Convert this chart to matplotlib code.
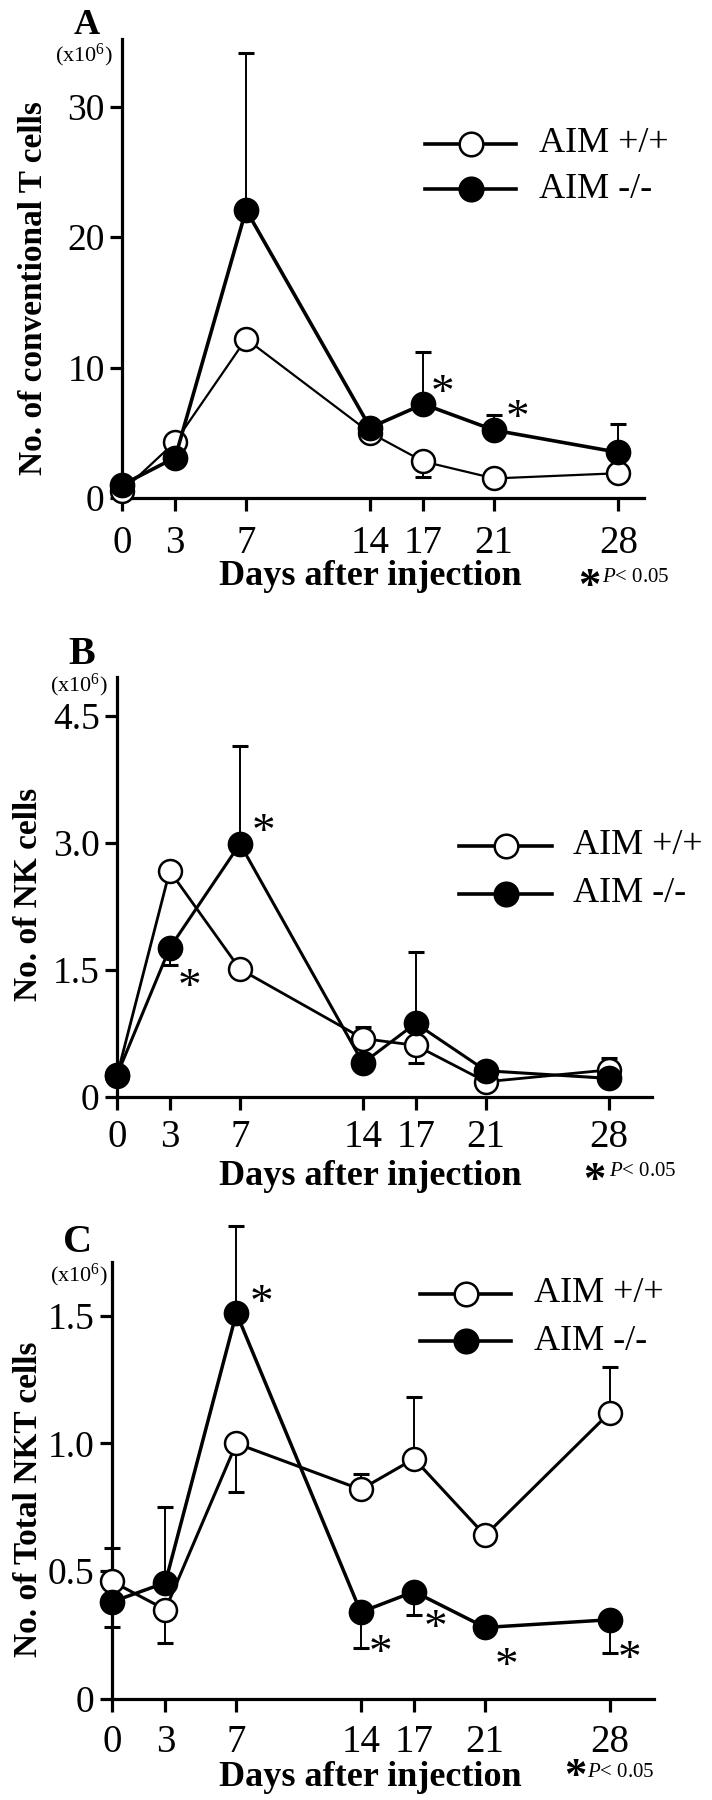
import matplotlib
matplotlib.use('Agg')
import numpy as np
import matplotlib.pyplot as plt
from matplotlib.lines import Line2D

plt.rcParams['font.family'] = ['Liberation Serif', 'DejaVu Serif']
plt.rcParams['mathtext.fontset'] = 'custom'
plt.rcParams['mathtext.rm'] = 'Liberation Serif'
plt.rcParams['mathtext.it'] = 'Liberation Serif:italic'

nan = np.nan
days = [0, 3, 7, 14, 17, 21, 28]
series_names = ['AIM +/+', 'AIM -/-']

# panel A: conventional T cells (x10^6)
A_wt = [0.5, 4.3, 12.2, 5.0, 2.8, 1.5, 1.9]
A_ko = [1.0, 3.1, 22.1, 5.4, 7.2, 5.2, 3.5]
A_wt_hi = [nan, nan, nan, nan, nan, nan, nan]
A_wt_lo = [nan, nan, nan, nan, 1.6, nan, nan]
A_ko_hi = [nan, nan, 34.1, 6.0, 11.2, 6.4, 5.7]
A_ko_lo = [nan, nan, nan, nan, nan, nan, nan]
A_stars = [(18.1, 8.85), (22.3, 6.95)]

# panel B: NK cells (x10^6)
B_wt = [0.25, 2.67, 1.51, 0.69, 0.61, 0.18, 0.32]
B_ko = [0.26, 1.76, 2.99, 0.40, 0.87, 0.31, 0.22]
B_wt_hi = [nan, nan, nan, 0.83, nan, nan, 0.46]
B_wt_lo = [nan, nan, nan, nan, 0.40, nan, nan]
B_ko_hi = [nan, nan, 4.15, nan, 1.71, nan, nan]
B_ko_lo = [nan, 1.56, nan, nan, nan, nan, nan]
B_stars = [(8.35, 3.25), (4.1, 1.42)]

# panel C: total NKT cells (x10^6)
C_wt = [0.46, 0.35, 1.00, 0.82, 0.94, 0.64, 1.12]
C_ko = [0.38, 0.455, 1.51, 0.34, 0.42, 0.28, 0.31]
C_wt_hi = [0.59, nan, nan, 0.88, 1.18, nan, 1.30]
C_wt_lo = [nan, 0.22, 0.81, nan, nan, nan, nan]
C_ko_hi = [nan, 0.75, 1.85, nan, nan, nan, nan]
C_ko_lo = [0.28, nan, nan, 0.20, 0.33, nan, 0.18]
C_stars = [(8.4, 1.59), (15.1, 0.22), (18.2, 0.32), (22.2, 0.17), (29.1, 0.20)]

W, H = 712., 1800.
fig = plt.figure(figsize=(7.12, 18), dpi=100)

def fx(x):
    return x / W

def fy(y):
    return 1 - y / H

def errbars(ax, y, hi, lo):
    x = np.array(days, float)
    y = np.array(y, float)
    hi = np.array(hi, float)
    lo = np.array(lo, float)
    m = ~np.isnan(hi)
    if m.any():
        ax.errorbar(x[m], y[m], yerr=[np.zeros(m.sum()), hi[m] - y[m]], fmt='none',
                    ecolor='k', elinewidth=1.4, capsize=5.8, capthick=2.2, zorder=2, clip_on=False)
    m = ~np.isnan(lo)
    if m.any():
        ax.errorbar(x[m], y[m], yerr=[y[m] - lo[m], np.zeros(m.sum())], fmt='none',
                    ecolor='k', elinewidth=1.4, capsize=5.8, capthick=2.2, zorder=2, clip_on=False)

panels = [
    dict(letter='A', box=(122, 644, 39, 498), xlim=(0.11, 29.45), ylim=(0, 35.2),
         yt=[0, 10, 20, 30], ytl=['0', '10', '20', '30'],
         wt=A_wt, ko=A_ko, wt_hi=A_wt_hi, wt_lo=A_wt_lo, ko_hi=A_ko_hi, ko_lo=A_ko_lo,
         stars=A_stars, ylabel='No. of conventional T cells', ylab_xy=(34, 288),
         let_xy=(87, 25), let_fs=26, unit_xy=(84, 55), xpad=10, lw=(1.6, 2.6),
         leg=(425, 516, 144, 189, 539), xlab_y=585, foot=(589, 576, 602, 582)),
    dict(letter='B', box=(117, 652, 677, 1097), xlim=(0.06, 30.45), ylim=(0, 4.96),
         yt=[0, 1.5, 3.0, 4.5], ytl=['0', '1.5', '3.0', '4.5'],
         wt=B_wt, ko=B_ko, wt_hi=B_wt_hi, wt_lo=B_wt_lo, ko_hi=B_ko_hi, ko_lo=B_ko_lo,
         stars=B_stars, ylabel='No. of NK cells', ylab_xy=(29, 894),
         let_xy=(82, 654), let_fs=29, unit_xy=(79, 685), xpad=6, lw=(2.0, 2.2),
         leg=(459, 552, 846, 894, 573), xlab_y=1185, foot=(594, 1170, 609, 1176)),
    dict(letter='C', box=(112, 654, 1262, 1699), xlim=(0.11, 30.5), ylim=(0, 1.71),
         yt=[0, 0.5, 1.0, 1.5], ytl=['0', '0.5', '1.0', '1.5'],
         wt=C_wt, ko=C_ko, wt_hi=C_wt_hi, wt_lo=C_wt_lo, ko_hi=C_ko_hi, ko_lo=C_ko_lo,
         stars=C_stars, ylabel='No. of Total NKT cells', ylab_xy=(29, 1499),
         let_xy=(78, 1242), let_fs=29, unit_xy=(79, 1275), xpad=8.5, lw=(2.2, 2.5),
         leg=(420, 511, 1294, 1341, 534), xlab_y=1786, foot=(575, 1766, 587, 1777)),
]

for p in panels:
    l, r, t, b = p['box']
    ax = fig.add_axes([fx(l), fy(b), (r - l) / W, (b - t) / H])
    ax.set_xlim(*p['xlim'])
    ax.set_ylim(*p['ylim'])
    for s in ['top', 'right']:
        ax.spines[s].set_visible(False)
    for s in ['left', 'bottom']:
        ax.spines[s].set_linewidth(2.3)
    ax.set_xticks(days)
    ax.set_xticklabels([str(d) for d in days])
    ax.set_yticks(p['yt'])
    ax.set_yticklabels(p['ytl'])
    ax.tick_params(axis='x', direction='out', length=9.5, width=2.3, labelsize=28, pad=p['xpad'])
    ax.tick_params(axis='y', direction='out', length=8.5, width=2.3, labelsize=27, pad=4)

    errbars(ax, p['wt'], p['wt_hi'], p['wt_lo'])
    errbars(ax, p['ko'], p['ko_hi'], p['ko_lo'])
    ax.plot(days, p['wt'], '-o', color='k', lw=p['lw'][0], ms=16.5, mfc='white', mec='k',
            mew=1.8, zorder=3, clip_on=False)
    ax.plot(days, p['ko'], '-o', color='k', lw=p['lw'][1], ms=17, mfc='k', mec='k',
            mew=1.5, zorder=4, clip_on=False)

    for sx, sy in p['stars']:
        ax.annotate('*', (sx, sy), xytext=(0, -17), textcoords='offset points',
                    ha='center', va='baseline', fontsize=34, annotation_clip=False)

    # legend drawn by hand at the reference position
    x0, x1, y0, y1, tx = p['leg']
    for yy, face, name in [(y0, 'white', series_names[0]), (y1, 'k', series_names[1])]:
        fig.add_artist(Line2D([fx(x0), fx(x1)], [fy(yy), fy(yy)], color='k', lw=2.6))
        fig.add_artist(Line2D([fx((x0 + x1) / 2)], [fy(yy)], marker='o', ms=17, mfc=face,
                              mec='k', mew=1.8, color='k'))
        fig.text(fx(tx), fy(yy), name, fontsize=26, va='center', ha='left')

    fig.text(fx(p['let_xy'][0]), fy(p['let_xy'][1]), p['letter'], fontsize=p['let_fs'],
             fontweight='bold', ha='center', va='center')
    fig.text(fx(p['unit_xy'][0]), fy(p['unit_xy'][1]), '(x10$^{6}$)', fontsize=16,
             ha='center', va='center')
    fig.text(fx(p['ylab_xy'][0]), fy(p['ylab_xy'][1]), p['ylabel'], fontsize=24,
             fontweight='bold', rotation=90, ha='center', va='center')
    fig.text(fx(370), fy(p['xlab_y']), 'Days after injection', fontsize=26,
             fontweight='bold', ha='center', va='baseline')
    ax_, ay_, bx_, by_ = p['foot']
    # footnote star: baseline set so the glyph centre sits at ay_
    fig.text(fx(ax_), fy(ay_ + 22), '*', fontsize=32, fontweight='bold', ha='center', va='baseline')
    fig.text(fx(bx_), fy(by_), '$P$< 0.05', fontsize=15, ha='left', va='baseline')

fig.savefig('out.png', dpi=100)
